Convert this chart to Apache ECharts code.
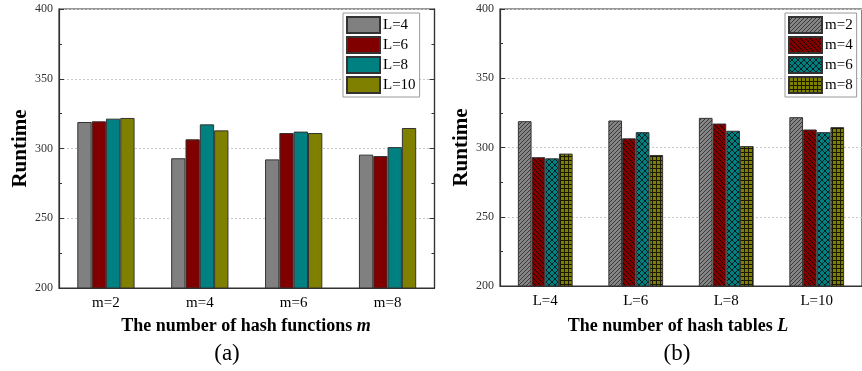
<!DOCTYPE html>
<html>
<head>
<meta charset="utf-8">
<script src="https://cdn.jsdelivr.net/npm/echarts@6/dist/echarts.min.js"></script>
<style>
html,body{margin:0;padding:0;background:#fff;}
#chart{width:862px;height:371px;}
</style>
</head>
<body>
<div id="chart"></div>
<script>
// ---- Data ----
const categoriesM = ['m=2', 'm=4', 'm=6', 'm=8'];
const categoriesL = ['L=4', 'L=6', 'L=8', 'L=10'];
// runtime for each L (series in chart a), across m=2,4,6,8
const runtimeL4  = [319.0, 293.0, 292.2, 295.6];
const runtimeL6  = [319.5, 306.6, 311.1, 294.6];
const runtimeL8  = [321.4, 317.3, 312.1, 301.0];
const runtimeL10 = [321.9, 313.0, 311.1, 314.7];
const yTicks = [200, 250, 300, 350, 400];

const byL = [runtimeL4, runtimeL6, runtimeL8, runtimeL10];
// chart b: series per m, across L (transpose)
const byM = categoriesM.map((_, mi) => byL.map(arr => arr[mi]));

const FONT = '"Liberation Serif", "Times New Roman", serif';
const colors = ['#808080', '#800000', '#008080', '#808000'];

function hatch(bg, line, type, size) {
  const c = document.createElement('canvas');
  c.width = size; c.height = size;
  const ctx = c.getContext('2d');
  ctx.fillStyle = bg; ctx.fillRect(0, 0, size, size);
  ctx.strokeStyle = line; ctx.lineWidth = 1;
  ctx.beginPath();
  if (type === '/' || type === 'x') {
    ctx.moveTo(0, size); ctx.lineTo(size, 0);
    ctx.moveTo(-1, 1); ctx.lineTo(1, -1);
    ctx.moveTo(size - 1, size + 1); ctx.lineTo(size + 1, size - 1);
  }
  if (type === '\\' || type === 'x') {
    ctx.moveTo(0, 0); ctx.lineTo(size, size);
    ctx.moveTo(size - 1, -1); ctx.lineTo(size + 1, 1);
    ctx.moveTo(-1, size - 1); ctx.lineTo(1, size + 1);
  }
  if (type === '+') {
    ctx.moveTo(0, 0.5); ctx.lineTo(size, 0.5);
    ctx.moveTo(0.5, 0); ctx.lineTo(0.5, size);
  }
  ctx.stroke();
  return { image: c, repeat: 'repeat' };
}
const patterns = [
  hatch('#858585', '#3a3a3a', '/', 4),
  hatch('#800000', '#1a0000', '\\', 5),
  hatch('#008080', '#002020', 'x', 6),
  hatch('#808000', '#1a1a00', '+', 4)
];

function yAxisCfg(gridIndex, showLabel, pos, nameGap) {
  return {
    type: 'value', gridIndex: gridIndex, position: pos || 'left',
    min: yTicks[0], max: yTicks[yTicks.length - 1], interval: 50,
    name: showLabel ? 'Runtime' : '',
    nameLocation: 'middle', nameGap: nameGap || 30,
    nameTextStyle: { fontFamily: FONT, fontSize: 21, fontWeight: 'bold', color: '#000' },
    axisLine: { show: true, lineStyle: { color: '#333', width: 1.2 } },
    axisTick: { show: true, inside: true, length: 5, lineStyle: { color: '#333' } },
    minorTick: { show: true, splitNumber: 2, length: 3, lineStyle: { color: '#333' } },
    axisLabel: { show: showLabel, fontFamily: FONT, fontSize: 12, color: '#333', margin: 6 },
    splitLine: { show: showLabel, lineStyle: { color: '#c8c8c8', type: [2, 2], width: 1 } }
  };
}
function xAxisCfg(gridIndex, cats) {
  return {
    type: 'category', gridIndex: gridIndex, data: cats,
    axisLine: { show: true, lineStyle: { color: '#333', width: 1.2 } },
    axisTick: { show: false },
    axisLabel: { fontFamily: FONT, fontSize: 15, color: '#000', margin: 8 },
    splitLine: { show: false }
  };
}

const series = [];
categoriesL.forEach((name, i) => {
  series.push({
    name: name, type: 'bar', xAxisIndex: 0, yAxisIndex: 0,
    data: byL[i], barGap: '0%', barCategoryGap: '39%',
    itemStyle: { color: colors[i], borderColor: '#333', borderWidth: 1 }
  });
});
categoriesM.forEach((name, i) => {
  series.push({
    name: name, type: 'bar', xAxisIndex: 1, yAxisIndex: 2,
    data: byM[i], barGap: '0%', barCategoryGap: '39.5%',
    itemStyle: { color: patterns[i], borderColor: '#333', borderWidth: 1 }
  });
});

const legendCommon = {
  orient: 'vertical', itemWidth: 33, itemHeight: 16, itemGap: 2,
  padding: [3, 4, 3, 3], borderColor: '#999', borderWidth: 1, backgroundColor: '#fff',
  icon: 'rect',
  textStyle: { fontFamily: FONT, fontSize: 15, color: '#000', padding: [0, 0, 0, -2] }
};

const option = {
  animation: false,
  backgroundColor: '#fff',
  grid: [
    { left: 59, top: 9, width: 375.5, height: 279, show: true, borderColor: '#333', borderWidth: 1.2 },
    { left: 500, top: 9, width: 372, height: 277, show: true, borderColor: '#333', borderWidth: 1.2 }
  ],
  xAxis: [xAxisCfg(0, categoriesM), xAxisCfg(1, categoriesL)],
  yAxis: [yAxisCfg(0, true, 'left', 27), yAxisCfg(0, false, 'right'), yAxisCfg(1, true, 'left', 25)],
  legend: [
    Object.assign({}, legendCommon, { data: categoriesL, left: 343, top: 13 }),
    Object.assign({}, legendCommon, { data: categoriesM, left: 785, top: 13 })
  ],
  title: [
    { text: 'The number of hash functions {i|m}', left: 246, top: 317, textAlign: 'center', padding: 0,
      textStyle: { fontFamily: FONT, fontSize: 18, fontWeight: 'bold', color: '#000',
        rich: { i: { fontFamily: FONT, fontSize: 18, fontWeight: 'bold', fontStyle: 'italic', color: '#000' } } } },
    { text: 'The number of hash tables {i|L}', left: 678, top: 317, textAlign: 'center', padding: 0,
      textStyle: { fontFamily: FONT, fontSize: 18, fontWeight: 'bold', color: '#000',
        rich: { i: { fontFamily: FONT, fontSize: 18, fontWeight: 'bold', fontStyle: 'italic', color: '#000' } } } },
    { text: '(a)', left: 227, top: 342, textAlign: 'center', padding: 0,
      textStyle: { fontFamily: FONT, fontSize: 23, fontWeight: 'normal', color: '#000' } },
    { text: '(b)', left: 677, top: 342, textAlign: 'center', padding: 0,
      textStyle: { fontFamily: FONT, fontSize: 23, fontWeight: 'normal', color: '#000' } }
  ],
  series: series
};

const chart = echarts.init(document.getElementById('chart'), null, { renderer: 'canvas' });
chart.setOption(option);
</script>
</body>
</html>
